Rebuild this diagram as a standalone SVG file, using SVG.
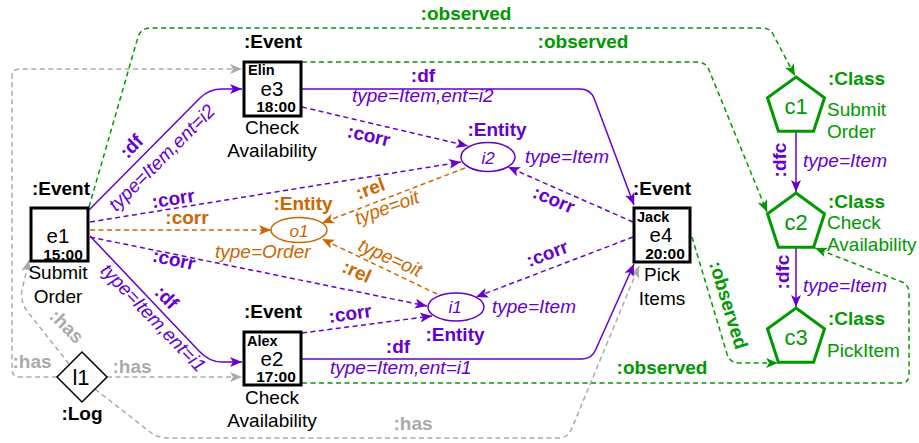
<svg xmlns="http://www.w3.org/2000/svg" width="919" height="443" viewBox="0 0 919 443">
<style>
text{font-family:"Liberation Sans",Arial,sans-serif;font-size:19px}
.b{font-weight:bold}
.i{font-style:italic}
.m{text-anchor:middle}
.p{fill:#6600cc}.o{fill:#cc6600}.g{fill:#009900}.k{fill:#000}.gr{fill:#aaaaaa}
.box{fill:#fff;stroke:#000;stroke-width:3}
.pent{fill:#fff;stroke:#009900;stroke-width:3}
.ell{fill:#fff;stroke-width:1.5}
.e{fill:none;stroke-width:1.5}
.sp{stroke:#6600cc}.so{stroke:#cc6600}.sg{stroke:#009900}.sgr{stroke:#aaaaaa}
.d{stroke-dasharray:5 3.5}
.big{font-size:22px}
.id{font-size:20.5px}
.nm{font-size:14.5px}
.tm{font-size:15.5px}
.ent{font-size:17px}
</style>
<defs>
<marker id="aP" viewBox="0 0 12 10" refX="12" refY="5" markerWidth="12" markerHeight="10" markerUnits="userSpaceOnUse" orient="auto"><path d="M0,0 L12,5 L0,10 L3,5 Z" fill="#6600cc" stroke="none"/></marker>
<marker id="aO" viewBox="0 0 12 10" refX="12" refY="5" markerWidth="12" markerHeight="10" markerUnits="userSpaceOnUse" orient="auto"><path d="M0,0 L12,5 L0,10 L3,5 Z" fill="#cc6600" stroke="none"/></marker>
<marker id="aG" viewBox="0 0 12 10" refX="12" refY="5" markerWidth="12" markerHeight="10" markerUnits="userSpaceOnUse" orient="auto"><path d="M0,0 L12,5 L0,10 L3,5 Z" fill="#009900" stroke="none"/></marker>
<marker id="aY" viewBox="0 0 12 10" refX="12" refY="5" markerWidth="12" markerHeight="10" markerUnits="userSpaceOnUse" orient="auto"><path d="M0,0 L12,5 L0,10 L3,5 Z" fill="#aaaaaa" stroke="none"/></marker>
</defs>

<g id="connectors">
  <!-- observed (green) -->
  <path class="e sg d" d="M89 207 L138 37 Q141 28 151 28 L762 28 Q771 28 774 36 L795 76" marker-end="url(#aG)"/>
  <path class="e sg d" d="M302 62 L697 62 Q706 62 709 70 L767 212" marker-end="url(#aG)"/>
  <path class="e sg d" d="M692 237 L727 354 Q730 363 739 363 L778 363" marker-end="url(#aG)"/>
  <path class="e sg d" d="M302 383 L901 383 Q909 383 909 375 L909 293 Q909 285 902 282 L815 248" marker-end="url(#aG)"/>
  <!-- has (gray) -->
  <path class="e sgr d" d="M57 377 L20 377 Q12 377 12 369 L12 77 Q12 69 20 69 L242 69" marker-end="url(#aY)"/>
  <path class="e sgr d" d="M107 377 L242 377" marker-end="url(#aY)"/>
  <path class="e sgr d" d="M69 364 L27 311 Q20 301 22 290 L29 260" marker-end="url(#aY)"/>
  <path class="e sgr d" d="M95 389 L150 432 Q158 438 168 438 L558 438 Q568 438 572 428 L639 266" marker-end="url(#aY)"/>
  <!-- df (purple solid) -->
  <path class="e sp" d="M89 210 L200 98 Q209 89 222 89 L242 89" marker-end="url(#aP)"/>
  <path class="e sp" d="M90 236 L199 351 Q209 362 222 362 L242 362" marker-end="url(#aP)"/>
  <path class="e sp" d="M302 89 L580 89 Q590 89 594 98 L634 205" marker-end="url(#aP)"/>
  <path class="e sp" d="M302 359 L582 359 Q592 359 596 349 L634 264" marker-end="url(#aP)"/>
  <!-- corr (purple dashed) -->
  <path class="e sp d" d="M90 222 L461 162" marker-end="url(#aP)"/>
  <path class="e sp d" d="M90 237 L427 306" marker-end="url(#aP)"/>
  <path class="e sp d" d="M302 107 L468 146" marker-end="url(#aP)"/>
  <path class="e sp d" d="M302 333 L432 316" marker-end="url(#aP)"/>
  <path class="e sp d" d="M633 222 L508 167" marker-end="url(#aP)"/>
  <path class="e sp d" d="M633 237 L476 297" marker-end="url(#aP)"/>
  <!-- orange -->
  <path class="e so d" d="M90 230 L271 230" marker-end="url(#aO)"/>
  <path class="e so d" d="M465 168 L322 223" marker-end="url(#aO)"/>
  <path class="e so d" d="M437 294 L322 239" marker-end="url(#aO)"/>
  <!-- dfc -->
  <path class="e sp" d="M796 131 L796 192" marker-end="url(#aP)"/>
  <path class="e sp" d="M796 247 L796 307" marker-end="url(#aP)"/>

  <!-- labels -->
  <text class="b g m" x="466" y="20">:observed</text>
  <text class="b g m" x="583" y="48">:observed</text>
  <text class="b g m" transform="translate(729,305) rotate(73)" y="7">:observed</text>
  <text class="b g m" x="662" y="374">:observed</text>

  <text class="b gr m" x="32" y="368">:has</text>
  <text class="b gr m" x="132" y="373">:has</text>
  <text class="b gr m" transform="translate(67,326) rotate(45)" y="7">:has</text>
  <text class="b gr m" x="413" y="430">:has</text>

  <text class="b p m" transform="translate(131,146) rotate(-45)" y="7">:df</text>
  <text class="i p m" transform="translate(162,158) rotate(-45)" y="6">type=Item,ent=i2</text>
  <text class="b p m" transform="translate(167,297) rotate(46)" y="7">:df</text>
  <text class="i p m" transform="translate(153,318) rotate(46)" y="6">type=Item,ent=i1</text>
  <text class="b p m" x="423" y="82">:df</text>
  <text class="i p" x="352" y="102">type=Item,ent=i2</text>
  <text class="b p m" x="398" y="353">:df</text>
  <text class="i p" x="330" y="374">type=Item,ent=i1</text>

  <text class="b p m" transform="translate(173,198) rotate(-9)" y="7">:corr</text>
  <text class="b o m" x="187" y="224">:corr</text>
  <text class="b p m" transform="translate(174,259) rotate(12)" y="7">:corr</text>
  <text class="b p m" transform="translate(369,135) rotate(13)" y="7">:corr</text>
  <text class="b p m" transform="translate(350,313) rotate(-8)" y="7">:corr</text>
  <text class="b p m" transform="translate(554,199) rotate(23)" y="7">:corr</text>
  <text class="b p m" transform="translate(547,253) rotate(-21)" y="7">:corr</text>

  <text class="b o m" transform="translate(370,188) rotate(-20)" y="7">:rel</text>
  <text class="i o m" transform="translate(387,208) rotate(-20)" y="6">type=oit</text>
  <text class="i o m" transform="translate(390,258) rotate(24)" y="6">type=oit</text>
  <text class="b o m" transform="translate(357,271) rotate(24)" y="7">:rel</text>

  <text class="b p m" transform="translate(779,160) rotate(-90)" y="7">:dfc</text>
  <text class="i p" x="803" y="167">type=Item</text>
  <text class="b p m" transform="translate(782,272) rotate(-90)" y="7">:dfc</text>
  <text class="i p" x="803" y="292">type=Item</text>
</g>

<g id="e1">
  <text class="b k m" x="61" y="195">:Event</text>
  <rect class="box" x="31" y="208" width="57" height="53"/>
  <text class="k m id" x="58" y="243">e1</text>
  <text class="b k m tm" x="63" y="260">15:00</text>
  <text class="k m" x="58" y="279">Submit</text>
  <text class="k m" x="58" y="303">Order</text>
</g>
<g id="e3">
  <text class="b k m" x="273" y="48">:Event</text>
  <rect class="box" x="244" y="62" width="57" height="54"/>
  <text class="b k nm" x="248" y="75">Elin</text>
  <text class="k m id" x="272" y="96">e3</text>
  <text class="b k m tm" x="276" y="112">18:00</text>
  <text class="k m" x="272" y="134">Check</text>
  <text class="k m" x="272" y="157">Availability</text>
</g>
<g id="e2">
  <text class="b k m" x="273" y="318">:Event</text>
  <rect class="box" x="244" y="332" width="57" height="53"/>
  <text class="b k nm" x="247" y="346">Alex</text>
  <text class="k m id" x="272" y="366">e2</text>
  <text class="b k m tm" x="276" y="382">17:00</text>
  <text class="k m" x="272" y="404">Check</text>
  <text class="k m" x="272" y="427">Availability</text>
</g>
<g id="e4">
  <text class="b k m" x="662" y="195">:Event</text>
  <rect class="box" x="634" y="208" width="56" height="54"/>
  <text class="b k nm" x="637" y="222">Jack</text>
  <text class="k m id" x="661" y="242">e4</text>
  <text class="b k m tm" x="665" y="259">20:00</text>
  <text class="k m" x="662" y="281">Pick</text>
  <text class="k m" x="662" y="305">Items</text>
</g>
<g id="l1">
  <polygon points="82,352 107,377 82,402 57,377" fill="#fff" stroke="#000" stroke-width="1.5"/>
  <text class="k m big" x="81" y="385">l1</text>
  <text class="b k m" x="82" y="420">:Log</text>
</g>
<g id="i2">
  <ellipse class="ell sp" cx="488" cy="157" rx="27" ry="14.5"/>
  <text class="i p m ent" x="488" y="164">i2</text>
  <text class="b p m" x="497" y="136">:Entity</text>
  <text class="i p" x="525" y="163">type=Item</text>
</g>
<g id="o1">
  <ellipse class="ell so" cx="299" cy="230" rx="28" ry="12.5"/>
  <text class="i o m ent" x="299" y="237">o1</text>
  <text class="b o m" x="303" y="210">:Entity</text>
  <text class="i o" x="215" y="258">type=Order</text>
</g>
<g id="i1">
  <ellipse class="ell sp" cx="456" cy="307" rx="28" ry="14"/>
  <text class="i p m ent" x="455" y="313">i1</text>
  <text class="b p m" x="455" y="341">:Entity</text>
  <text class="i p" x="492" y="313">type=Item</text>
</g>
<g id="c1">
  <polygon class="pent" points="796,77 824.5,97.7 813.6,131.3 778.4,131.3 767.5,97.7"/>
  <text class="g m big" x="796" y="114">c1</text>
  <text class="b g" x="828" y="85">:Class</text>
  <text class="g" x="827" y="116">Submit</text>
  <text class="g" x="827" y="138">Order</text>
</g>
<g id="c2">
  <polygon class="pent" points="796,193 824.5,213.7 813.6,247.3 778.4,247.3 767.5,213.7"/>
  <text class="g m big" x="796" y="230">c2</text>
  <text class="b g" x="828" y="208">:Class</text>
  <text class="g" x="827" y="229">Check</text>
  <text class="g" x="827" y="251">Availability</text>
</g>
<g id="c3">
  <polygon class="pent" points="796,308 824.5,328.7 813.6,362.3 778.4,362.3 767.5,328.7"/>
  <text class="g m big" x="796" y="345">c3</text>
  <text class="b g" x="828" y="325">:Class</text>
  <text class="g" x="827" y="357">PickItem</text>
</g>
</svg>
